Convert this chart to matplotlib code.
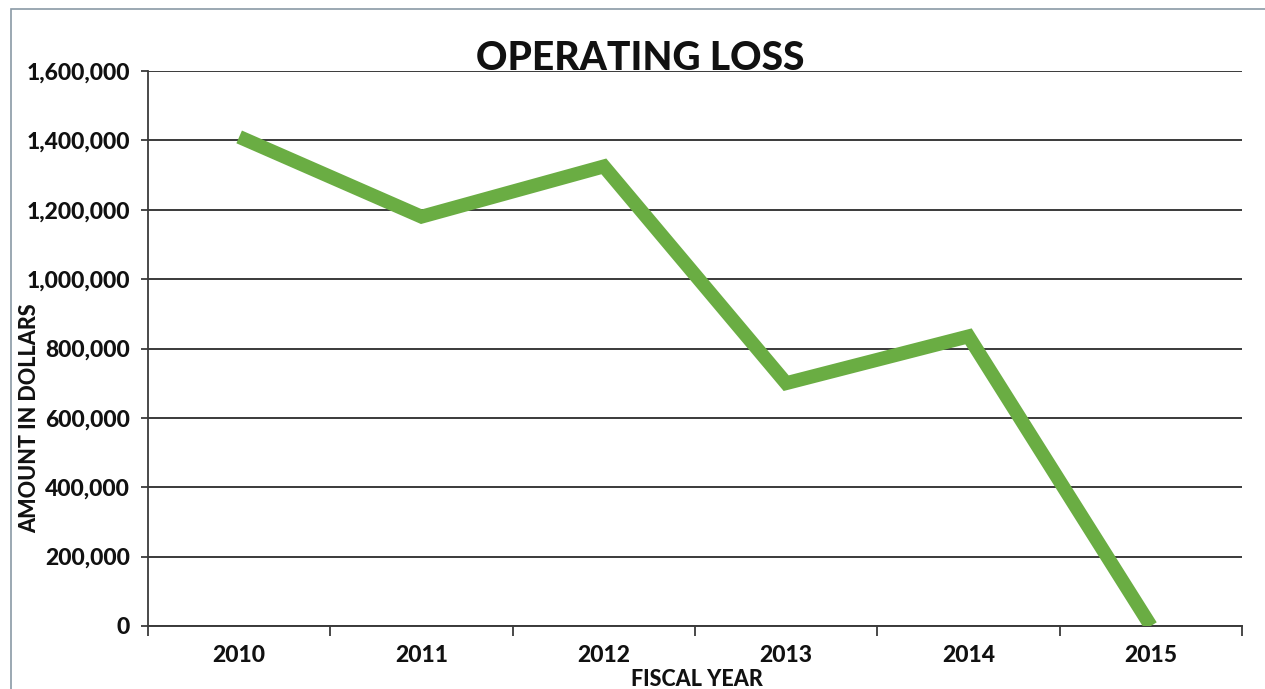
import matplotlib
matplotlib.use("Agg")
import matplotlib.pyplot as plt
from matplotlib.ticker import FuncFormatter, FixedLocator
from matplotlib.patches import Rectangle

years = ["2010", "2011", "2012", "2013", "2014", "2015"]
operating_loss = [1410000, 1180000, 1325000, 700000, 835000, 0]
y_ticks = [0, 200000, 400000, 600000, 800000, 1000000, 1200000, 1400000, 1600000]

title_text = "OPERATING LOSS"
x_label = "FISCAL YEAR"
y_label = "AMOUNT IN DOLLARS"

FONT = ["Lato", "DejaVu Sans"]
plt.rcParams["font.family"] = FONT
WEIGHT = 900

fig = plt.figure(figsize=(12.65, 6.89), dpi=100)
fig.patch.set_facecolor("white")
ax = fig.add_axes([148 / 1265, 1 - 626 / 689, (1242 - 148) / 1265, (626 - 71) / 689])

x = list(range(len(years)))
ax.plot(x, operating_loss, color="#6AAD43", linewidth=10, solid_joinstyle="miter",
        solid_capstyle="butt", zorder=3)

ax.set_xlim(-0.5, len(years) - 0.5)
ax.set_ylim(0, 1600000)
ax.set_yticks(y_ticks)
ax.yaxis.set_major_formatter(FuncFormatter(lambda v, p: f"{int(v):,}"))
ax.grid(axis="y", color="#3a3a3a", linewidth=1.4, zorder=1)
ax.set_axisbelow(True)

ax.set_xticks(x)
ax.set_xticklabels(years)
ax.xaxis.set_minor_locator(FixedLocator([i - 0.5 for i in range(len(years) + 1)]))
ax.tick_params(axis="x", which="major", length=0, pad=14)
ax.tick_params(axis="x", which="minor", length=7, width=1.3, color="#3a3a3a", direction="out")
ax.tick_params(axis="y", length=5, width=1.3, color="#3a3a3a", pad=8)

for lab in ax.get_xticklabels() + ax.get_yticklabels():
    lab.set_fontsize(16.5)
    lab.set_fontweight(WEIGHT)
    lab.set_color("#111111")

for s in ["top", "right"]:
    ax.spines[s].set_visible(False)
ax.spines["left"].set_color("#3a3a3a")
ax.spines["left"].set_linewidth(1.3)
ax.spines["bottom"].set_color("#3a3a3a")
ax.spines["bottom"].set_linewidth(1.4)

fig.text(640 / 1265, 1 - 58 / 689, title_text, fontsize=28, fontweight=WEIGHT,
         ha="center", va="center", color="#111111")
fig.text(30 / 1265, 1 - 418 / 689, y_label, fontsize=15.5, fontweight=WEIGHT,
         rotation=90, ha="center", va="center", color="#111111")
fig.text(697 / 1265, 1 - 680 / 689, x_label, fontsize=15.5, fontweight=WEIGHT,
         ha="center", va="center", color="#111111")

# outer chart border
fig.patches.append(Rectangle((11 / 1265, -0.05), 1.2, 1 - 9 / 689 + 0.05,
                             transform=fig.transFigure, fill=False,
                             edgecolor="#8a9aa6", linewidth=1.2))

fig.savefig("out.png", dpi=100, facecolor="white")
